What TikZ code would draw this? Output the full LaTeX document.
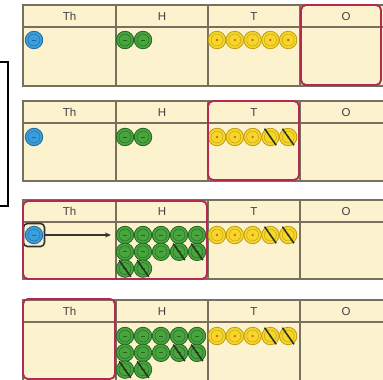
\documentclass[tikz,border=0pt]{standalone}
\usepackage{fontspec}
\setsansfont{Liberation Sans}
\usetikzlibrary{arrows.meta}
\definecolor{cell}{RGB}{253,242,206}
\definecolor{gridc}{RGB}{120,112,95}
\definecolor{headtext}{RGB}{65,65,65}
\definecolor{hilitec}{RGB}{178,42,82}
\definecolor{bluecoin}{RGB}{58,158,218}
\definecolor{bluerim}{RGB}{35,105,160}
\definecolor{greencoin}{RGB}{72,165,62}
\definecolor{greenrim}{RGB}{35,100,35}
\definecolor{yellowcoin}{RGB}{246,214,40}
\definecolor{yellowrim}{RGB}{190,155,20}
\definecolor{yellowdot}{RGB}{214,96,40}
\definecolor{strikec}{RGB}{40,48,30}
\tikzset{
  gridline/.style={draw=gridc,line width=1.2pt},
  head/.style={font=\sffamily\fontsize{11.5}{13}\selectfont,text=headtext},
  hilite/.style={draw=hilitec,line width=1.9pt,rounded corners=5pt},
  coin/.style={circle,minimum size=17.5pt,inner sep=0pt,line width=0.8pt},
  bcoin/.style={coin,fill=bluecoin,draw=bluerim,
    path picture={\draw[bluerim,line width=0.4pt] (path picture bounding box.center) circle (6pt);
      \draw[bluerim,line width=0.7pt] ([xshift=-2pt]path picture bounding box.center) -- ([xshift=2pt]path picture bounding box.center);}},
  gcoin/.style={coin,fill=greencoin,draw=greenrim,
    path picture={\draw[greenrim,line width=0.4pt] (path picture bounding box.center) circle (6pt);
      \draw[greenrim,line width=0.7pt] ([xshift=-2pt]path picture bounding box.center) -- ([xshift=2pt]path picture bounding box.center);}},
  ycoin/.style={coin,fill=yellowcoin,draw=yellowrim,
    path picture={\draw[yellowrim,line width=0.4pt] (path picture bounding box.center) circle (6pt);
      \fill[yellowdot] (path picture bounding box.center) circle (1.3pt);}},
  strike/.style={draw=strikec,line width=1.5pt,shorten <=-1pt,shorten >=-1pt},
  coinbox/.style={draw=black!80,line width=1.6pt,rounded corners=4pt,minimum width=21pt,minimum height=23pt},
  carry/.style={-{Stealth[length=6pt,width=5pt]},draw=black!80,line width=1.3pt},
  bracket/.style={draw=black,line width=1.4pt}
}
\begin{document}
\begin{tikzpicture}[x=1pt,y=-1pt]
  \useasboundingbox (0,0) rectangle (383,380);
  \clip (0,0) rectangle (383,380);
  \foreach \p/\ty/\h in {1/5/81,2/101/80,3/200/79,4/300/90} {
    \fill[cell] (23,\ty) rectangle (393,\ty+\h);
    \draw[gridline] (23,\ty) rectangle (393,\ty+\h);
    \draw[gridline] (23,\ty+22) -- (393,\ty+22);
    \foreach \x in {116,208,300}
      \draw[gridline] (\x,\ty) -- (\x,\ty+\h);
    \foreach \lab/\cx in {Th/69.5,H/162,T/254,O/346}
      \node[head] (\lab-\p) at (\cx,\ty+11.5) {\lab};
  }
  \foreach \p/\cy in {1/40,2/137,3/235}
    \node[bcoin] (b\p) at (34,\cy) {};
  \foreach \p/\cy in {1/40,2/137}
    \foreach \i in {1,2}
      \node[gcoin] (g\p-\i) at ({107+18*\i},\cy) {};
  \foreach \p/\cy in {3/235,4/336}
    \foreach \i in {1,...,12}
      \node[gcoin] (g\p-\i) at ({107+18*(mod(\i-1,5)+1)},{\cy+16.8*floor((\i-1)/5)}) {};
  \foreach \p/\cy in {1/40,2/137,3/235,4/336}
    \foreach \i in {1,...,5}
      \node[ycoin] (t\p-\i) at ({199.2+17.8*\i},\cy) {};
  \foreach \c in {t2-4,t2-5,t3-4,t3-5,t4-4,t4-5,g3-9,g3-10,g3-11,g3-12,g4-9,g4-10,g4-11,g4-12}
    \draw[strike] (\c.125) -- (\c.-55);
  \node[coinbox] (b3box) at (b3) {};
  \coordinate (b3to) at (111,235);
  \draw[carry] (b3box) -- (b3to);
  \draw[hilite] (301,5) rectangle (381,85);
  \draw[hilite] (208,101) rectangle (299,180);
  \draw[hilite] (23,201) rectangle (207,279);
  \draw[hilite] (23,299) rectangle (115,379);
  \draw[bracket] (0,62) -- (8,62) -- (8,206) -- (0,206);
\end{tikzpicture}
\end{document}
